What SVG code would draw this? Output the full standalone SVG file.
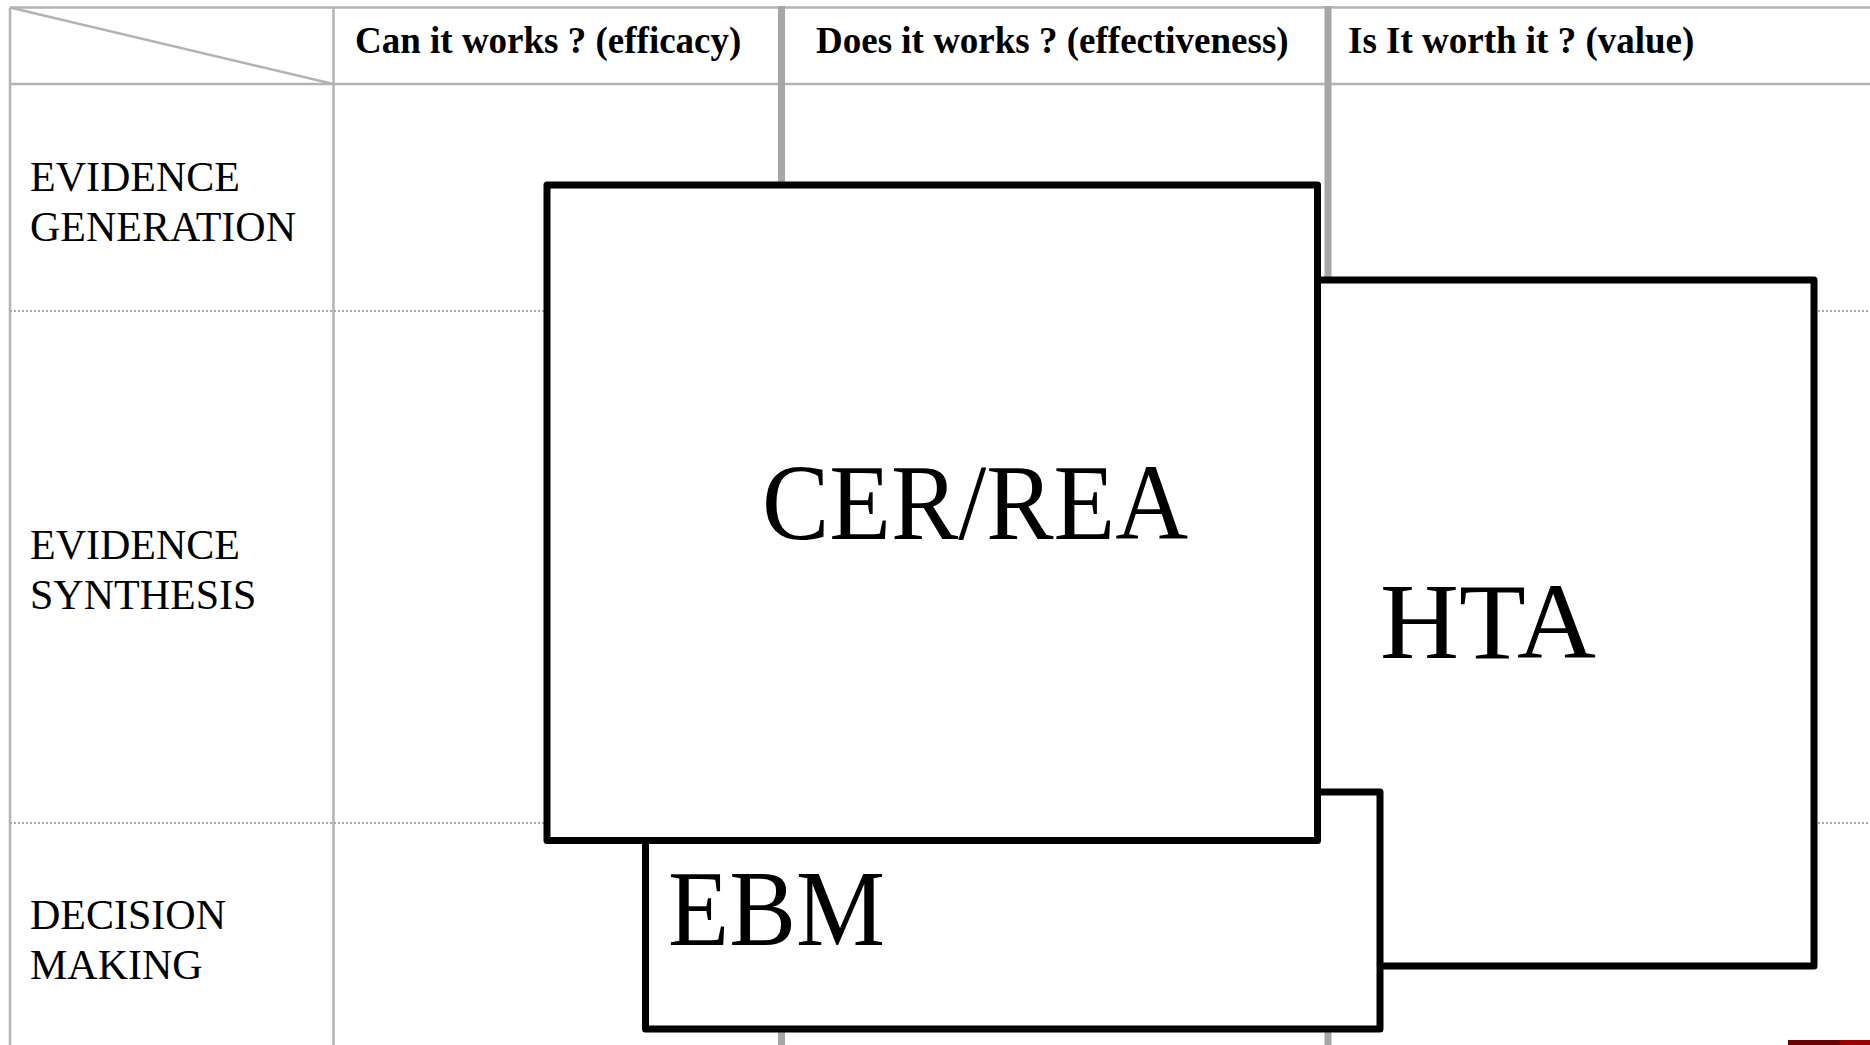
<svg xmlns="http://www.w3.org/2000/svg" width="1870" height="1045" viewBox="0 0 1870 1045">
  <style>
    .thin { stroke: #b3b3b3; stroke-width: 2.5; fill: none; }
    .thick { stroke: #a6a6a6; stroke-width: 7; fill: none; }
    .dot { stroke: #aaaaaa; stroke-width: 2; stroke-dasharray: 2 2; fill: none; }
    .box { fill: #ffffff; stroke: #000000; stroke-width: 7; stroke-linejoin: round; }
    .hdr { font-family: "Liberation Serif", "Times New Roman", serif; font-weight: bold; font-size: 37px; fill: #000; }
    .row { font-family: "Liberation Serif", "Times New Roman", serif; font-size: 42px; fill: #000; }
    .big { font-family: "Liberation Serif", "Times New Roman", serif; font-size: 108px; fill: #000; }
  </style>
  <rect x="0" y="0" width="1870" height="1045" fill="#ffffff"/>

  <g id="grid">
    <line class="thin" x1="10" y1="7.5" x2="1870" y2="7.5"/>
    <line class="thin" x1="10" y1="84" x2="1870" y2="84"/>
    <line class="thin" x1="10" y1="7.5" x2="10" y2="1045"/>
    <line class="thin" x1="333.5" y1="7.5" x2="333.5" y2="1045"/>
    <line class="thin" x1="10" y1="7.5" x2="333.5" y2="84"/>
    <line class="thick" x1="781.5" y1="6" x2="781.5" y2="1045"/>
    <line class="thick" x1="1328" y1="6" x2="1328" y2="1045"/>
    <line class="dot" x1="10" y1="311" x2="1870" y2="311"/>
    <line class="dot" x1="10" y1="823" x2="1870" y2="823"/>
  </g>

  <g id="headers">
    <text class="hdr" x="355" y="53">Can it works ? (efficacy)</text>
    <text class="hdr" x="816" y="53">Does it works ? (effectiveness)</text>
    <text class="hdr" x="1348" y="53">Is It worth it ? (value)</text>
  </g>

  <g id="row-labels">
    <text class="row" x="30" y="191">EVIDENCE</text>
    <text class="row" x="30" y="241">GENERATION</text>
    <text class="row" x="30" y="559">EVIDENCE</text>
    <text class="row" x="30" y="609">SYNTHESIS</text>
    <text class="row" x="30" y="929">DECISION</text>
    <text class="row" x="30" y="979">MAKING</text>
  </g>

  <g id="connectors"></g>

  <g id="node-hta">
    <rect class="box" x="1317.5" y="280" width="496.5" height="686"/>
    <text class="big" x="1380" y="658" textLength="216" lengthAdjust="spacingAndGlyphs">HTA</text>
  </g>

  <g id="node-ebm">
    <rect class="box" x="645.5" y="792" width="734.5" height="237"/>
    <text class="big" x="668" y="945" textLength="217" lengthAdjust="spacingAndGlyphs">EBM</text>
  </g>

  <g id="node-cer">
    <rect class="box" x="547" y="185" width="770.5" height="655.5"/>
    <text class="big" x="762" y="539" textLength="426" lengthAdjust="spacingAndGlyphs">CER/REA</text>
  </g>

  <g id="corner-bar">
    <rect x="1788" y="1040" width="52" height="5" fill="#6b0000"/>
    <rect x="1840" y="1040" width="30" height="5" fill="#9e0000"/>
  </g>
</svg>
